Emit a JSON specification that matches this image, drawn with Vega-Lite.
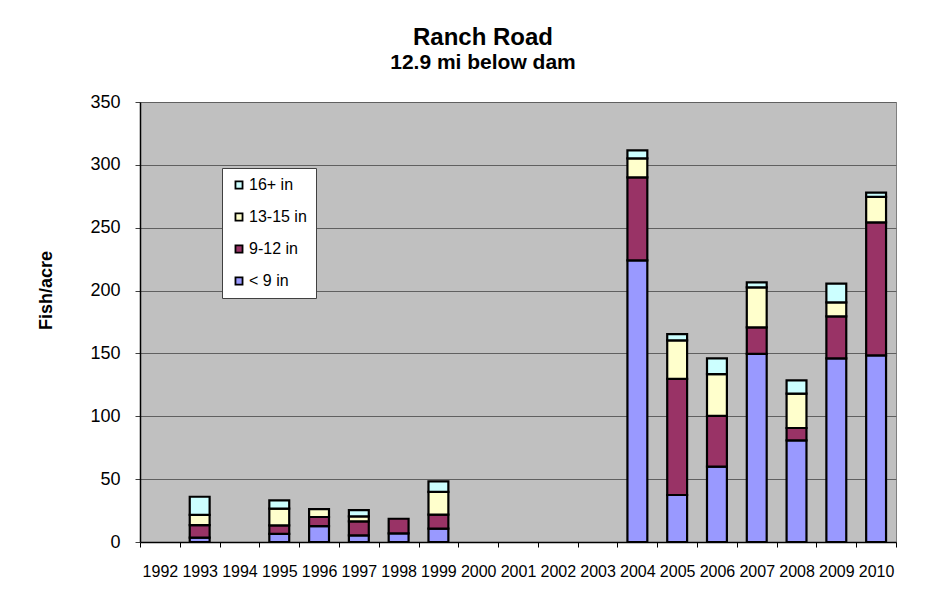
{
  "$schema": "https://vega.github.io/schema/vega-lite/v6.json",
  "width": 756,
  "height": 440,
  "autosize": "none",
  "padding": {"left": 140, "top": 102, "right": 33, "bottom": 63},
  "background": "white",
  "config": {
    "font": "Liberation Sans",
    "view": {"fill": "#C0C0C0", "stroke": "#808080", "strokeWidth": 1}
  },
  "title": {
    "text": "Ranch Road",
    "subtitle": "12.9 mi below dam",
    "fontSize": 24,
    "fontWeight": "bold",
    "color": "black",
    "subtitleFontSize": 21,
    "subtitleFontWeight": "bold",
    "subtitleColor": "black",
    "subtitlePadding": 2,
    "anchor": "middle",
    "frame": "group",
    "offset": 20,
    "dx": -35
  },
  "data": {
    "values": [
      {"year": "1993", "size": "< 9 in", "n": 3.5},
      {"year": "1993", "size": "9-12 in", "n": 10},
      {"year": "1993", "size": "13-15 in", "n": 8},
      {"year": "1993", "size": "16+ in", "n": 14.5},
      {"year": "1995", "size": "< 9 in", "n": 6.4},
      {"year": "1995", "size": "9-12 in", "n": 6.8},
      {"year": "1995", "size": "13-15 in", "n": 13.3},
      {"year": "1995", "size": "16+ in", "n": 6.6},
      {"year": "1996", "size": "< 9 in", "n": 12.7},
      {"year": "1996", "size": "9-12 in", "n": 7.2},
      {"year": "1996", "size": "13-15 in", "n": 6.3},
      {"year": "1997", "size": "< 9 in", "n": 5.3},
      {"year": "1997", "size": "9-12 in", "n": 11.1},
      {"year": "1997", "size": "13-15 in", "n": 4.0},
      {"year": "1997", "size": "16+ in", "n": 5.0},
      {"year": "1998", "size": "< 9 in", "n": 6.9},
      {"year": "1998", "size": "9-12 in", "n": 11.6},
      {"year": "1999", "size": "< 9 in", "n": 10.6},
      {"year": "1999", "size": "9-12 in", "n": 11.1},
      {"year": "1999", "size": "13-15 in", "n": 18.1},
      {"year": "1999", "size": "16+ in", "n": 8.4},
      {"year": "2004", "size": "< 9 in", "n": 224},
      {"year": "2004", "size": "9-12 in", "n": 66},
      {"year": "2004", "size": "13-15 in", "n": 15.2},
      {"year": "2004", "size": "16+ in", "n": 6.3},
      {"year": "2005", "size": "< 9 in", "n": 37.4},
      {"year": "2005", "size": "9-12 in", "n": 92.3},
      {"year": "2005", "size": "13-15 in", "n": 30.7},
      {"year": "2005", "size": "16+ in", "n": 4.9},
      {"year": "2006", "size": "< 9 in", "n": 60},
      {"year": "2006", "size": "9-12 in", "n": 40.3},
      {"year": "2006", "size": "13-15 in", "n": 33.2},
      {"year": "2006", "size": "16+ in", "n": 12.6},
      {"year": "2007", "size": "< 9 in", "n": 149.6},
      {"year": "2007", "size": "9-12 in", "n": 21.2},
      {"year": "2007", "size": "13-15 in", "n": 31.8},
      {"year": "2007", "size": "16+ in", "n": 3.9},
      {"year": "2008", "size": "< 9 in", "n": 80.8},
      {"year": "2008", "size": "9-12 in", "n": 9.9},
      {"year": "2008", "size": "13-15 in", "n": 27.3},
      {"year": "2008", "size": "16+ in", "n": 10.6},
      {"year": "2009", "size": "< 9 in", "n": 146},
      {"year": "2009", "size": "9-12 in", "n": 33.5},
      {"year": "2009", "size": "13-15 in", "n": 11.1},
      {"year": "2009", "size": "16+ in", "n": 14.9},
      {"year": "2010", "size": "< 9 in", "n": 148.4},
      {"year": "2010", "size": "9-12 in", "n": 105.9},
      {"year": "2010", "size": "13-15 in", "n": 20.2},
      {"year": "2010", "size": "16+ in", "n": 3.4}
    ]
  },
  "transform": [
    {"calculate": "indexof(['< 9 in', '9-12 in', '13-15 in', '16+ in'], datum.size)", "as": "stackOrder"}
  ],
  "mark": {"type": "bar", "stroke": "black", "strokeWidth": 2.2, "strokeJoin": "miter", "width": {"band": 0.5}},
  "encoding": {
    "x": {
      "field": "year",
      "type": "nominal",
      "scale": {
        "domain": ["1992","1993","1994","1995","1996","1997","1998","1999","2000","2001","2002","2003","2004","2005","2006","2007","2008","2009","2010"],
        "paddingInner": 0,
        "paddingOuter": 0
      },
      "axis": {
        "title": null,
        "labelAngle": 0,
        "labelFontSize": 16,
        "labelColor": "black",
        "labelPadding": 16,
        "tickBand": "extent",
        "tickSize": 5,
        "tickColor": "black",
        "domainColor": "black",
        "domainWidth": 1.5,
        "grid": false
      }
    },
    "y": {
      "field": "n",
      "type": "quantitative",
      "stack": "zero",
      "scale": {"domain": [0, 350], "nice": false},
      "axis": {
        "title": "Fish/acre",
        "titleFontSize": 18,
        "titleFontWeight": "bold",
        "titleColor": "black",
        "titleX": -85,
        "titleY": 188,
        "values": [0, 50, 100, 150, 200, 250, 300, 350],
        "labelFontSize": 18,
        "labelColor": "black",
        "labelPadding": 15,
        "tickSize": 5,
        "tickColor": "#404040",
        "domainColor": "black",
        "domainWidth": 1.5,
        "grid": true,
        "gridColor": "#606060",
        "gridWidth": 1
      }
    },
    "color": {
      "field": "size",
      "type": "nominal",
      "scale": {
        "domain": ["16+ in", "13-15 in", "9-12 in", "< 9 in"],
        "range": ["#CCFFFF", "#FFFFCC", "#993366", "#9999FF"]
      },
      "legend": {
        "title": null,
        "orient": "none",
        "legendX": 82,
        "legendY": 66,
        "padding": 9,
        "fillColor": "white",
        "strokeColor": "#404040",
        "symbolType": "square",
        "symbolSize": 50,
        "symbolStrokeColor": "black",
        "symbolStrokeWidth": 1.8,
        "symbolOpacity": 1,
        "labelFontSize": 16,
        "labelColor": "black",
        "labelOffset": 2,
        "rowPadding": 16
      }
    },
    "order": {"field": "stackOrder", "type": "quantitative"}
  }
}
